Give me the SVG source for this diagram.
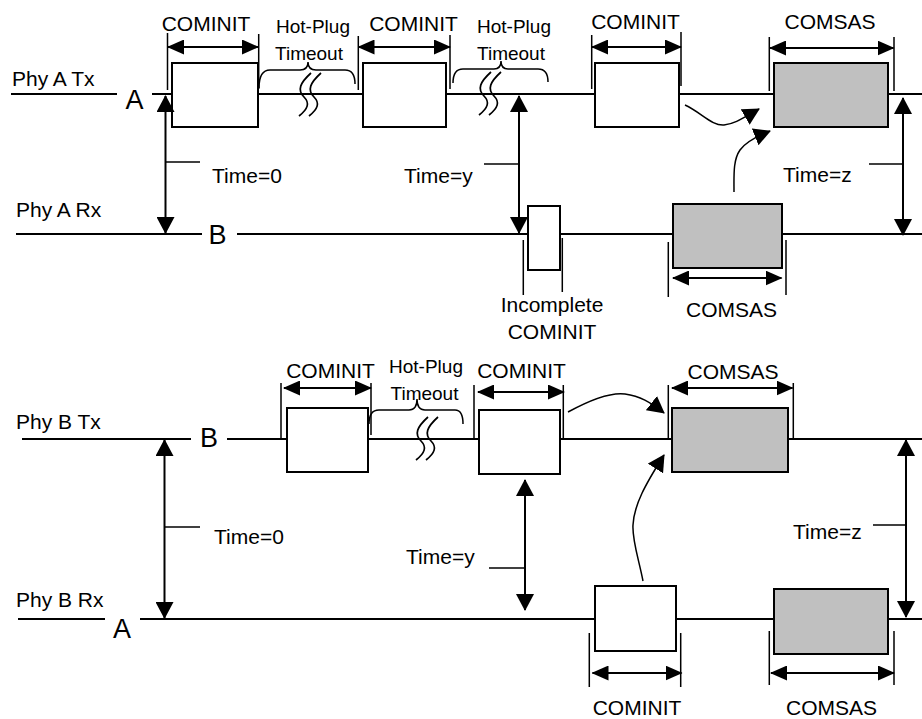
<svg xmlns="http://www.w3.org/2000/svg" xmlns:xlink="http://www.w3.org/1999/xlink" width="922" height="719" viewBox="0 0 922 719">
<style>
text{font-family:"Liberation Sans",Arial,Helvetica,sans-serif;fill:#000}
.lbl{font-size:21px}
.big{font-size:27px}
.hp{font-size:19px;text-anchor:middle}
.c{text-anchor:middle}
.sig{stroke:#000;stroke-width:2;fill:none}
.box{stroke:#000;stroke-width:2;fill:#fff}
.gray{fill:#c0c0c0}
.tick{stroke:#000;stroke-width:1.5;fill:none}
.dim{stroke:#000;stroke-width:2;fill:none;marker-start:url(#d);marker-end:url(#d)}
.tm{stroke:#000;stroke-width:2;fill:none;marker-start:url(#t);marker-end:url(#t)}
.cv{stroke:#000;stroke-width:1.5;fill:none;marker-end:url(#t)}
.brace{stroke:#000;stroke-width:1.5;fill:none}
</style>
<defs>
<marker id="d" viewBox="0 0 17 15" markerWidth="17" markerHeight="15" refX="16" refY="7.5" orient="auto-start-reverse" markerUnits="userSpaceOnUse"><path d="M0,0L17,7.5L0,15z" fill="#000"/></marker>
<marker id="t" viewBox="0 0 17 18" markerWidth="17" markerHeight="18" refX="16" refY="9" orient="auto-start-reverse" markerUnits="userSpaceOnUse"><path d="M0,0L17,9L0,18z" fill="#000"/></marker>
<g id="brk" fill="none" stroke="#000" stroke-width="1.7">
<path d="M13,0 C2,10 -1,17 6,24 C12,30 10,36 1,43"/>
<path d="M23,0 C12,10 9,17 16,24 C22,30 20,36 11,43"/>
</g>
</defs>

<!-- signal lines -->
<g id="signal-lines" class="sig">
<path d="M11,94H117M152,94H922"/>
<path d="M16,234H202M237,234H922"/>
<path d="M22,439H191M227,439H922"/>
<path d="M18,619H105M140,619H922"/>
</g>

<!-- line labels -->
<g id="line-labels">
<text class="lbl" x="12" y="86">Phy A Tx</text>
<text class="big c" x="134.5" y="109">A</text>
<text class="lbl" x="16" y="217">Phy A Rx</text>
<text class="big c" x="217.5" y="244">B</text>
<text class="lbl" x="16" y="429">Phy B Tx</text>
<text class="big c" x="209" y="447">B</text>
<text class="lbl" x="16" y="607">Phy B Rx</text>
<text class="big c" x="122" y="638">A</text>
</g>

<!-- top section: Phy A Tx -->
<g id="a-tx-cominit1">
<rect class="box" x="172" y="63" width="86" height="64"/>
<path class="tick" d="M167.5,33V90M258.7,34V89"/>
<line class="dim" x1="168" y1="47" x2="258" y2="47"/>
<text class="lbl c" x="206" y="31">COMINIT</text>
</g>
<g id="a-tx-hotplug1">
<path class="brace" d="M259,88 Q259,70 270,70 L300,70 Q308,70 308,62 Q308,70 316,70 L345,70 Q355,70 355,84"/>
<use xlink:href="#brk" href="#brk" x="298" y="73"/>
<text class="hp" x="313" y="33">Hot-Plug</text>
<text class="hp" x="309" y="60">Timeout</text>
</g>
<g id="a-tx-cominit2">
<rect class="box" x="363" y="63" width="83" height="64"/>
<path class="tick" d="M358.3,36V90M450,35V89"/>
<line class="dim" x1="358.5" y1="47" x2="450" y2="47"/>
<text class="lbl c" x="413.5" y="31">COMINIT</text>
</g>
<g id="a-tx-hotplug2">
<path class="brace" d="M453,83 Q453,69 463,69 L494,69 Q501,69 501,61 Q501,69 508,69 L538,69 Q548,69 548,82"/>
<use xlink:href="#brk" href="#brk" x="478" y="72"/>
<text class="hp" x="514" y="33">Hot-Plug</text>
<text class="hp" x="511" y="60">Timeout</text>
</g>
<g id="a-tx-cominit3">
<rect class="box" x="595" y="63" width="84" height="64"/>
<path class="tick" d="M591.7,35V89M681,32V86"/>
<line class="dim" x1="592" y1="47" x2="681" y2="47"/>
<text class="lbl c" x="635.5" y="29">COMINIT</text>
</g>
<g id="a-tx-comsas">
<rect class="box gray" x="774" y="63" width="114" height="64"/>
<path class="tick" d="M769.3,37V91M894,37V91"/>
<line class="dim" x1="770" y1="48" x2="893.5" y2="48"/>
<text class="lbl c" x="830" y="29">COMSAS</text>
</g>

<!-- Phy A Rx -->
<g id="a-rx-incomplete">
<rect class="box" x="528" y="206" width="32" height="64"/>
<path class="tick" d="M523.3,240V295M562.3,238V292"/>
<text class="lbl c" x="552" y="312">Incomplete</text>
<text class="lbl c" x="552" y="339">COMINIT</text>
</g>
<g id="a-rx-comsas">
<rect class="box gray" x="673" y="204" width="109" height="64"/>
<path class="tick" d="M668.3,242V297M786,240V295"/>
<line class="dim" x1="673" y1="278" x2="781.5" y2="278"/>
<text class="lbl c" x="731.5" y="317">COMSAS</text>
</g>

<!-- bottom section: Phy B Tx -->
<g id="b-tx-cominit1">
<rect class="box" x="287" y="408" width="81" height="64"/>
<path class="tick" d="M281,383V439M371,383V435"/>
<line class="dim" x1="284" y1="388" x2="371" y2="388"/>
<text class="lbl c" x="330.5" y="378">COMINIT</text>
</g>
<g id="b-tx-hotplug">
<path class="brace" d="M369,424 Q369,410 379,410 L409,410 Q417,410 417,399 Q417,410 425,410 L455,410 Q463,410 463,424"/>
<use xlink:href="#brk" href="#brk" x="415" y="417"/>
<text class="hp" x="426" y="373">Hot-Plug</text>
<text class="hp" x="424.5" y="400">Timeout</text>
</g>
<g id="b-tx-cominit2">
<rect class="box" x="479" y="410" width="81" height="64"/>
<path class="tick" d="M474,385V439M563.3,385V439"/>
<line class="dim" x1="478" y1="392" x2="564" y2="392"/>
<text class="lbl c" x="521.5" y="378">COMINIT</text>
</g>
<g id="b-tx-comsas">
<rect class="box gray" x="672" y="408" width="116" height="64"/>
<path class="tick" d="M668.3,385V439M793.3,383V439"/>
<line class="dim" x1="672" y1="388" x2="792.5" y2="388"/>
<text class="lbl c" x="733" y="379">COMSAS</text>
</g>

<!-- Phy B Rx -->
<g id="b-rx-cominit">
<rect class="box" x="595" y="586" width="81" height="65"/>
<path class="tick" d="M589.3,633V687M680.7,633V687"/>
<line class="dim" x1="592.5" y1="673" x2="681.5" y2="673"/>
<text class="lbl c" x="637" y="715">COMINIT</text>
</g>
<g id="b-rx-comsas">
<rect class="box gray" x="774" y="589" width="114" height="65"/>
<path class="tick" d="M769.3,631V685M894,631V685"/>
<line class="dim" x1="771" y1="673" x2="894" y2="673"/>
<text class="lbl c" x="831.5" y="715">COMSAS</text>
</g>

<!-- connectors -->
<g id="connectors">
<line class="tm" x1="165.5" y1="96" x2="165.5" y2="233"/>
<path class="tick" d="M165,162H200"/>
<line class="tm" x1="519" y1="96" x2="519" y2="233"/>
<path class="tick" d="M484,164H519"/>
<line class="tm" x1="903" y1="98" x2="903" y2="235"/>
<path class="tick" d="M869,164H903"/>
<line class="tm" x1="164.5" y1="440" x2="164.5" y2="618"/>
<path class="tick" d="M164,527H200"/>
<line class="tm" x1="525" y1="480" x2="525" y2="610"/>
<path class="tick" d="M489,568H525"/>
<line class="tm" x1="906" y1="440" x2="906" y2="617"/>
<path class="tick" d="M873,525H906"/>
<path class="cv" d="M685,105 C702,113 712,126 724,125 C734,124 740,120 759,109"/>
<path class="cv" d="M734,192 C734,175 733,160 740,150 C745,143 755,137 770,131"/>
<path class="cv" d="M568,412 C590,400 610,392 625,394 C640,396 650,402 664,413"/>
<path class="cv" d="M643,581 C639,560 632,540 633,525 C634,505 645,485 664,455"/>
</g>

<!-- time labels -->
<g id="time-labels" class="lbl">
<text x="212" y="183">Time=0</text>
<text x="404" y="183">Time=y</text>
<text x="783" y="182">Time=z</text>
<text x="214" y="544">Time=0</text>
<text x="406" y="564">Time=y</text>
<text x="793" y="539">Time=z</text>
</g>
</svg>
